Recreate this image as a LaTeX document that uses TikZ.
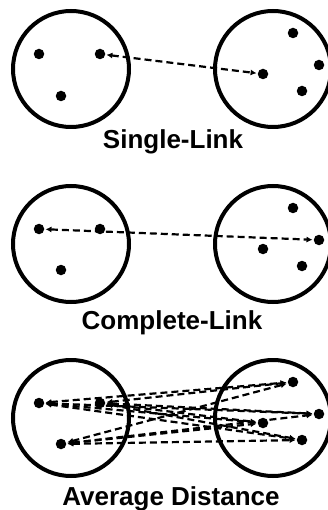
\documentclass[tikz,border=0pt]{standalone}
\usepackage{fontspec}
\setmainfont{Liberation Sans}
\usetikzlibrary{arrows.meta}
\tikzset{
  pt/.style={circle,fill,inner sep=0pt,minimum size=10.5pt},
  cluster/.style={circle,draw,line width=4pt,inner sep=0pt,minimum size=116pt},
  link/.style={{Latex[length=6pt,width=6pt]}-{Latex[length=6pt,width=6pt]},line width=2.2pt,dash pattern=on 7pt off 4pt,shorten <=1pt,shorten >=1pt},
  caption/.style={font=\fontsize{26}{30}\selectfont\bfseries,anchor=base}
}
\begin{document}
\begin{tikzpicture}[x=1pt,y=-1pt]
                \useasboundingbox (0,0) rectangle (327,510);
                % single link
                \node[cluster] (sa) at (71,69) {};
                \node[cluster] (sb) at (273,69) {};
                \node[pt] (sl1) at (39,54) {};
                \node[pt] (sl2) at (100,54) {};
                \node[pt] (sl3) at (61,96) {};
                \node[pt] (sr1) at (293,33) {};
                \node[pt] (sr2) at (319,65) {};
                \node[pt] (sr3) at (263,74) {};
                \node[pt] (sr4) at (302,91) {};
                \node[caption] (st) at (173,149) {Single-Link};
                \draw[link] (sl2) to (sr3);

                % complete link
                \node[cluster] (ca) at (71,244) {};
                \node[cluster] (cb) at (273,244) {};
                \node[pt] (cl1) at (39,229) {};
                \node[pt] (cl2) at (100,229) {};
                \node[pt] (cl3) at (61,270) {};
                \node[pt] (cr1) at (293,208) {};
                \node[pt] (cr2) at (319,240) {};
                \node[pt] (cr3) at (263,249) {};
                \node[pt] (cr4) at (302,266) {};
                \node[caption] (ct) at (172,329) {Complete-Link};
                \draw[link] (cl1) to (cr2);

                % average distance
                \node[cluster] (va) at (71,418) {};
                \node[cluster] (vb) at (273,418) {};
                \node[pt] (vl1) at (39,403) {};
                \node[pt] (vl2) at (100,403) {};
                \node[pt] (vl3) at (61,444) {};
                \node[pt] (vr1) at (293,382) {};
                \node[pt] (vr2) at (319,414) {};
                \node[pt] (vr3) at (263,423) {};
                \node[pt] (vr4) at (302,440) {};
                \node[caption] (vt) at (171,505) {Average Distance};
                \draw[link] (vl1) to (vr1);
                \draw[link] (vl1) to (vr2);
                \draw[link] (vl1) to (vr3);
                \draw[link] (vl1) to (vr4);
                \draw[link] (vl2) to (vr1);
                \draw[link] (vl2) to (vr2);
                \draw[link] (vl2) to (vr3);
                \draw[link] (vl2) to (vr4);
                \draw[link] (vl3) to (vr1);
                \draw[link] (vl3) to (vr2);
                \draw[link] (vl3) to (vr3);
                \draw[link] (vl3) to (vr4);
\end{tikzpicture}
\end{document}
